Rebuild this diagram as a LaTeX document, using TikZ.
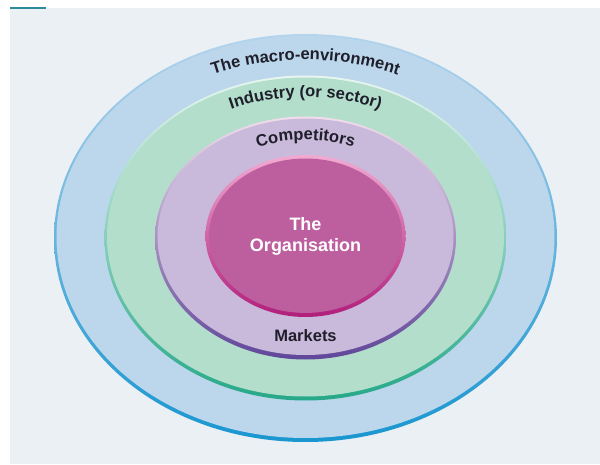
\documentclass[tikz,border=0pt]{standalone}
\usepackage{fontspec}
\setmainfont{Liberation Sans}
\usetikzlibrary{calc,decorations.text}

\definecolor{bg}{HTML}{EBF0F4}
\definecolor{tab}{HTML}{2A8C9A}
\definecolor{labelc}{HTML}{1F1F2B}
\definecolor{bluefill}{HTML}{BCD7EC}
\definecolor{bluetop}{HTML}{B4D4EC}
\definecolor{bluerim}{HTML}{1996D0}
\definecolor{greenfill}{HTML}{B3DECB}
\definecolor{greentop}{HTML}{E8F6EF}
\definecolor{greenrim}{HTML}{26A888}
\definecolor{purplefill}{HTML}{C9B9DA}
\definecolor{purpletop}{HTML}{F2DDEC}
\definecolor{purplerim}{HTML}{604699}
\definecolor{orgfill}{HTML}{BD5F9E}
\definecolor{orgtop}{HTML}{F1AAD2}
\definecolor{orgrim}{HTML}{B01F7B}

\begin{document}
\begin{tikzpicture}[
    x=1pt,y=1pt,
    lbl/.style={font=\bfseries\fontsize{16.5}{18}\selectfont,text=labelc,inner sep=0},
    org/.style={font=\bfseries\fontsize{18}{21}\selectfont,text=white,align=center,inner sep=0},
    curved/.style={decorate,decoration={text along path,text align=center,
      text={|\bfseries\fontsize{16.5}{18}\selectfont\color{labelc}|#1}}}
    ]
    \useasboundingbox (0,0) rectangle (600,464);

    % background
    \fill[bg] (10,0) rectangle (600,456);
    \draw[tab,line width=2] (10,455.5) -- (46,455.5);

    \coordinate (c) at (305.5,226);

    % rings
    \shade[top color=bluetop,bottom color=bluerim] (c) ellipse [x radius=251.5,y radius=204];
    \fill[bluefill] ($(c)+(0,1)$) ellipse [x radius=249,y radius=201];

    \shade[top color=greentop,bottom color=greenrim] (c) ellipse [x radius=201,y radius=162.5];
    \fill[greenfill] ($(c)+(0,1)$) ellipse [x radius=198.5,y radius=159.5];

    \shade[top color=purpletop,bottom color=purplerim] (c) ellipse [x radius=150.5,y radius=121.5];
    \fill[purplefill] ($(c)+(0,1.2)$) ellipse [x radius=148,y radius=118.2];

    \shade[top color=orgtop,bottom color=orgrim] ($(c)+(0,2)$) ellipse [x radius=100,y radius=81];
    \fill[orgfill] ($(c)+(0,2.3)$) ellipse [x radius=96.5,y radius=77.2];

    % curved labels
    \path[curved={The macro-environment}] ($(c)+(170:232 and 178)$)
      arc [start angle=170,end angle=10,x radius=232,y radius=178];
    \path[curved={Industry (or sector)}] ($(c)+(170:181 and 141)$)
      arc [start angle=170,end angle=10,x radius=181,y radius=141];
    \path[curved={Competitors}] ($(c)+(170:126 and 98)$)
      arc [start angle=170,end angle=10,x radius=126,y radius=98];

    % labels
    \node[org] (organisation) at (305.5,227.5) {The\\Organisation};
    \node[lbl,anchor=base] (markets) at (305.5,122) {Markets};
  \end{tikzpicture}
\end{document}
